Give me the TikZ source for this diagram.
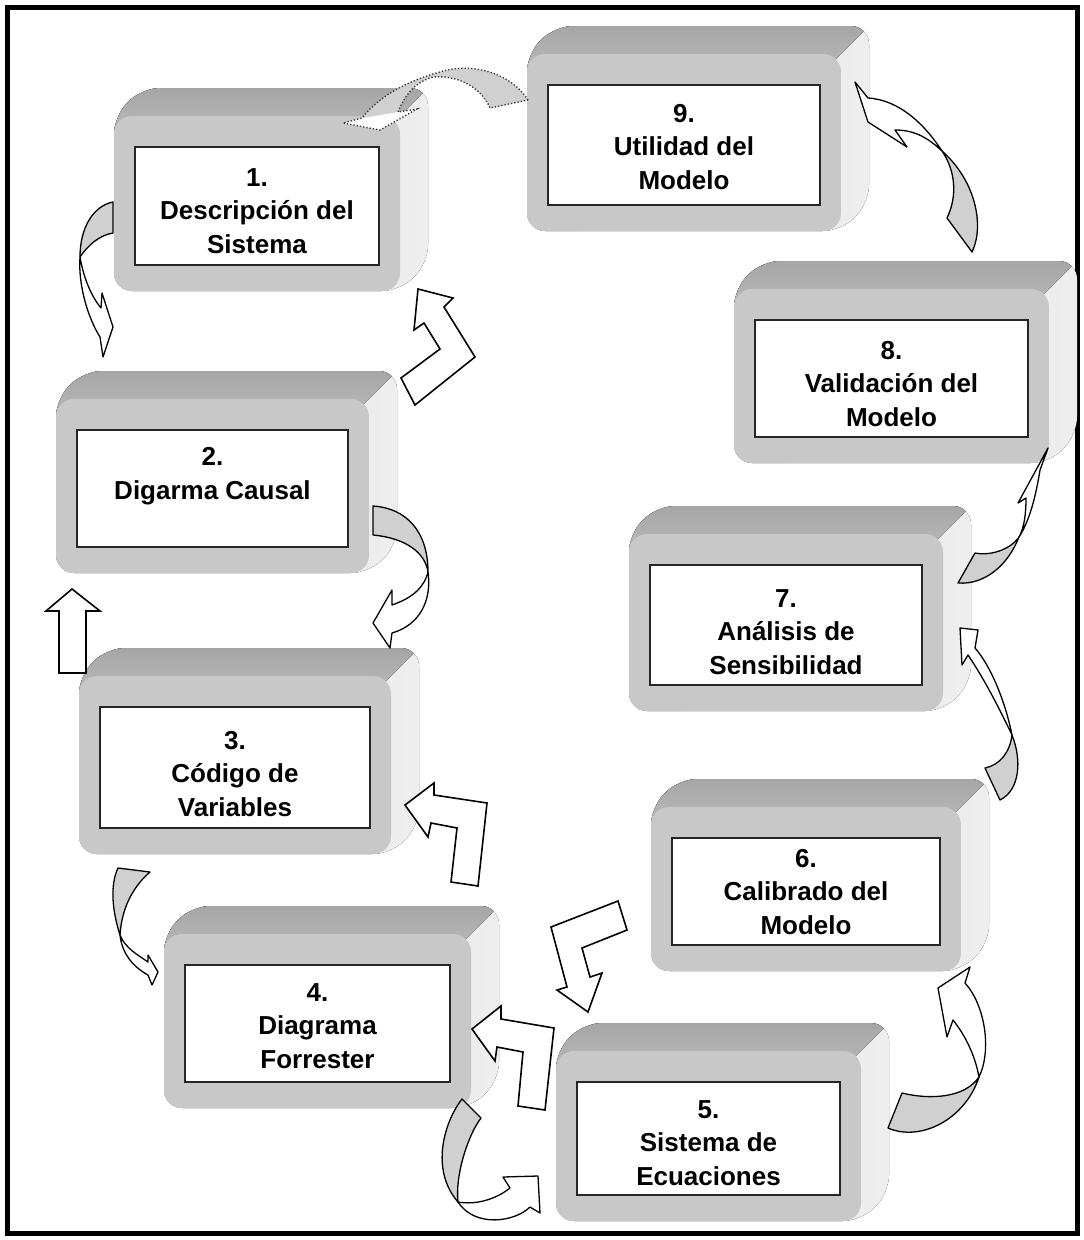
\documentclass[tikz,border=0pt]{standalone}
\usepackage{fontspec}
\setmainfont{Liberation Sans}
\definecolor{frontc}{HTML}{C8C8C8}
\definecolor{topA}{HTML}{9C9C9C}
\definecolor{topB}{HTML}{BDBDBD}
\definecolor{sideA}{HTML}{DADADA}
\definecolor{sideB}{HTML}{EFEFEF}
\definecolor{arrgray}{HTML}{D0D0D0}
\newcommand\cubebox[7]{%
  \pgfmathsetmacro\cbL{#2-21}%
  \pgfmathsetmacro\cbR{#4+21}%
  \pgfmathsetmacro\cbT{#3-31}%
  \pgfmathsetmacro\cbB{#5+26}%
  \begin{scope}
    \path[clip,rounded corners=18pt] (\cbL,\cbB) -- (\cbL,\cbT) -- (\cbL+28,\cbT-28) -- (\cbR+28,\cbT-28) -- (\cbR+28,\cbB-28) -- (\cbR,\cbB) -- cycle;
    \fill[left color=sideA,right color=sideB] (\cbL-30,\cbB+30) rectangle (\cbR+40,\cbT-40);
    \fill[top color=topA,bottom color=topB] (\cbL-25,\cbT+25) -- (\cbL-25,\cbT-50) -- (\cbR+50,\cbT-50) -- (\cbR-25,\cbT+25) -- cycle;
  \end{scope}
  \fill[frontc,rounded corners=18pt] (\cbL,\cbT) rectangle (\cbR,\cbB);
  \draw[innerrect] (#2,#3) rectangle (#4,#5);
  \node[boxtext] (#1) at ({(#2+#4)/2},#6) {#7};
}
\begin{document}
\begin{tikzpicture}[x=1pt,y=-1pt,
  curvearr/.style={draw=black,line width=1.3pt,line join=round},
  grayband/.style={curvearr,fill=arrgray},
  whiteband/.style={curvearr,fill=white},
  blockarr/.style={draw=black,fill=white,line width=1.6pt,line join=miter},
  dotarr/.style={draw=black!80,dotted,line width=1.3pt},
  innerrect/.style={draw=black!85,fill=white,line width=1.3pt},
  boxtext/.style={align=center,font=\fontsize{26}{33.5}\selectfont\bfseries,inner sep=0pt}]
\useasboundingbox (0,0) rectangle (1084,1240);
\fill[white] (0,0) rectangle (1084,1240);
\draw[line width=5pt] (7,7) rectangle (1077,1233);

% boxes
\cubebox{b1}{135}{147}{379}{265}{211}{1.\\Descripción del\\Sistema}
\cubebox{b2}{77}{430}{348}{547}{476}{2.\\Digarma Causal}
\cubebox{b3}{100}{707}{370}{828}{774}{3.\\Código de\\Variables}
\cubebox{b4}{185}{965}{450}{1082}{1026}{4.\\Diagrama\\Forrester}
\cubebox{b5}{577}{1082}{840}{1195}{1143}{5.\\Sistema de\\Ecuaciones}
\cubebox{b6}{672}{838}{940}{945}{892}{6.\\Calibrado del\\Modelo}
\cubebox{b7}{650}{565}{922}{685}{632}{7.\\Análisis de\\Sensibilidad}
\cubebox{b8}{755}{320}{1028}{437}{384}{8.\\Validación del\\Modelo}
\cubebox{b9}{548}{85}{820}{205}{147}{9.\\Utilidad del\\Modelo}

% dotted arrow 9 -> 1
\fill[arrgray] (528,100) .. controls (510,72) and (470,62) .. (440,72) .. controls (410,80) and (380,95) .. (362,118) -- (398,112) .. controls (405,95) and (415,82) .. (433,77) .. controls (455,75) and (480,85) .. (490,108) -- cycle;
\fill[white] (362,118) -- (343,123) -- (380,130) -- (417,109) -- (398,112) -- cycle;
\draw[dotarr] (528,100) .. controls (510,72) and (470,62) .. (440,72) .. controls (410,80) and (380,95) .. (362,118) -- (343,123) -- (380,130) -- (417,109) -- (398,112) .. controls (405,95) and (415,82) .. (433,77) .. controls (455,75) and (480,85) .. (490,108) -- cycle;

% curved arrow A (1 -> 2)
\draw[whiteband] (80,257) .. controls (78,285) and (88,318) .. (100,337) -- (103,357) -- (113,327) -- (102,293) -- (101,308) .. controls (92,297) and (84,280) .. (80,257) -- cycle;
\draw[grayband] (113,202) .. controls (93,206) and (80,228) .. (80,257) .. controls (88,245) and (100,235) .. (113,233) -- cycle;

% curved arrow B (2 -> 3)
\draw[whiteband] (428,572) .. controls (432,600) and (420,625) .. (392,633) -- (390,648) -- (373,623) -- (392,590) -- (392,605) .. controls (412,598) and (424,588) .. (428,572) -- cycle;
\draw[grayband] (373,506) .. controls (405,508) and (428,530) .. (428,572) .. controls (425,552) and (405,538) .. (373,535) -- cycle;

% curved arrow C (3 -> 4)
\draw[whiteband] (120,935) .. controls (122,955) and (135,968) .. (148,975) -- (152,985) -- (158,972) -- (148,955) -- (148,962) .. controls (138,955) and (125,948) .. (120,935) -- cycle;
\draw[grayband] (118,868) -- (150,872) .. controls (135,885) and (122,905) .. (120,935) .. controls (112,910) and (110,885) .. (118,868) -- cycle;

% curved arrow D (loop below 4/5)
\draw[whiteband] (458,1202) .. controls (475,1228) and (515,1222) .. (530,1207) -- (540,1213) -- (538,1176) -- (503,1177) -- (510,1188) .. controls (495,1200) and (475,1205) .. (458,1202) -- cycle;
\draw[grayband] (462,1099) -- (481,1118) .. controls (468,1135) and (455,1175) .. (458,1202) .. controls (430,1170) and (444,1122) .. (462,1099) -- cycle;

% curved arrow E (5 -> 6)
\draw[whiteband] (979,1077) .. controls (992,1050) and (985,1005) .. (965,983) -- (970,967) -- (938,988) -- (947,1037) -- (953,1020) .. controls (965,1035) and (975,1055) .. (979,1077) -- cycle;
\draw[grayband] (902,1093) -- (888,1128) .. controls (920,1142) and (965,1120) .. (979,1077) .. controls (965,1098) and (930,1100) .. (902,1093) -- cycle;

% curved arrow F (6 -> 7)
\draw[whiteband] (1012,735) .. controls (1005,700) and (990,665) .. (975,648) -- (978,630) -- (960,628) -- (962,665) -- (968,655) .. controls (985,680) and (1000,710) .. (1012,735) -- cycle;
\draw[grayband] (985,768) -- (1000,800) .. controls (1020,790) and (1022,760) .. (1012,735) .. controls (1010,752) and (1000,765) .. (985,768) -- cycle;

% curved arrow G (7 -> 8)
\draw[whiteband] (1019,537) .. controls (1030,520) and (1036,495) .. (1040,470) -- (1048,448) -- (1018,503) -- (1026,498) .. controls (1026,515) and (1024,528) .. (1019,537) -- cycle;
\draw[grayband] (958,583) -- (975,553) .. controls (990,556) and (1010,550) .. (1019,537) .. controls (1008,565) and (985,585) .. (958,583) -- cycle;

% curved arrow H (8 -> 9)
\draw[whiteband] (942,151) .. controls (925,125) and (900,100) .. (868,98) -- (855,82) -- (868,122) -- (907,147) -- (895,130) .. controls (915,130) and (928,138) .. (942,151) -- cycle;
\draw[grayband] (947,218) -- (972,252) .. controls (985,225) and (975,180) .. (942,151) .. controls (955,170) and (958,195) .. (947,218) -- cycle;

% block arrows
\draw[blockarr] (72,589) -- (100,611) -- (86,611) -- (86,673) -- (59,673) -- (59,611) -- (46,611) -- cycle;
\draw[blockarr] (418,289) -- (453,298) -- (444,307) -- (475,357) -- (415,405) -- (401,378) -- (440,349) -- (424,323) -- (414,330) -- cycle;
\draw[blockarr] (405,805) -- (434,783) -- (434,795) -- (487,803) -- (478,886) -- (451,882) -- (457,828) -- (431,823) -- (428,837) -- cycle;
\draw[blockarr] (472,1029) -- (501,1006) -- (501,1019) -- (554,1028) -- (545,1110) -- (518,1106) -- (523,1052) -- (497,1047) -- (495,1061) -- cycle;
\draw[blockarr] (551,927) -- (618,901) -- (627,930) -- (582,948) -- (590,977) -- (602,973) -- (588,1012) -- (557,990) -- (567,987) -- cycle;
\end{tikzpicture}
\end{document}
